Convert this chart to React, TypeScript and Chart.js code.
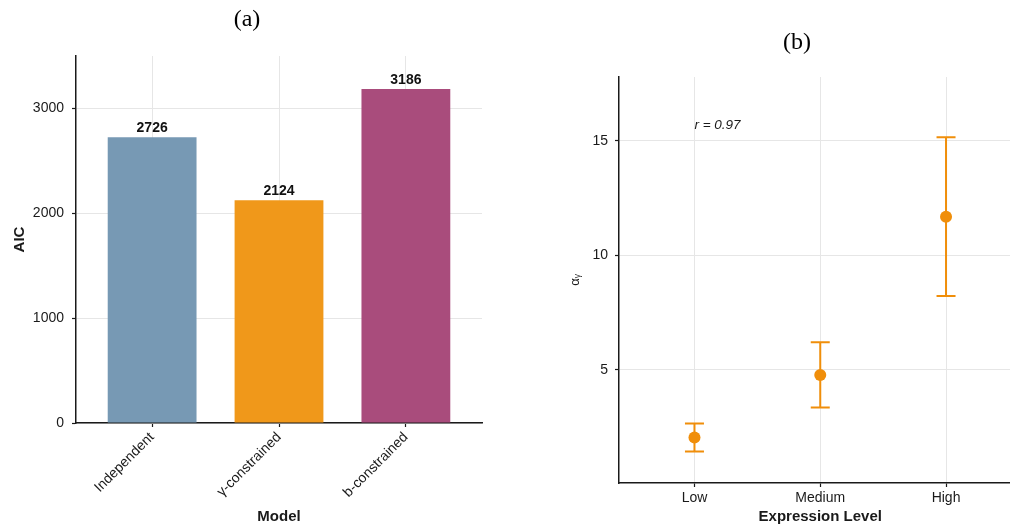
import React, { useEffect, useRef } from "react";
import { Chart, registerables } from "chart.js";

Chart.register(...registerables);

// Panel (a): model comparison by AIC
const models = ["Independent", "γ-constrained", "b-constrained"];
const aicValues = [2726, 2124, 3186];
const barColors = ["#7799b4", "#f0981a", "#a94c7c"];
const aicTicks = [0, 1000, 2000, 3000];

// Panel (b): α_γ by expression level, with interval bounds
const levels = ["Low", "Medium", "High"];
const alphaMean = [2.05, 4.78, 11.69];
const alphaLower = [1.44, 3.36, 8.23];
const alphaUpper = [2.66, 6.21, 15.16];
const alphaTicks = [5, 10, 15];
const correlationText = "r = 0.97";
const correlationAnchor = { x: 0, y: 15.53 };

const SANS = "'Liberation Sans', Arial, sans-serif";
const TEXT = "#1a1a1a";
const GRID = "#e6e6e6";
const AXIS = "#1a1a1a";
const POINT_COLOR = "#f08e0a";
const TICK_SIZE = 14;
const TITLE_SIZE = 15;

const barValueLabels = {
  id: "barValueLabels",
  afterDatasetsDraw(chart: any) {
    const ctx = chart.ctx;
    const meta = chart.getDatasetMeta(0);
    ctx.save();
    ctx.font = `bold 14px ${SANS}`;
    ctx.fillStyle = "#111";
    ctx.textAlign = "center";
    ctx.textBaseline = "alphabetic";
    meta.data.forEach((bar: any, i: number) => {
      ctx.fillText(String(aicValues[i]), bar.x, bar.y - 5);
    });
    ctx.restore();
  },
};

const errorBars = {
  id: "errorBars",
  beforeDatasetsDraw(chart: any) {
    const ctx = chart.ctx;
    const xs = chart.scales.x;
    const ys = chart.scales.y;
    const cap = 9.5;
    ctx.save();
    ctx.strokeStyle = POINT_COLOR;
    ctx.lineWidth = 2;
    ctx.lineCap = "butt";
    levels.forEach((_, i) => {
      const x = xs.getPixelForValue(i);
      const yLo = ys.getPixelForValue(alphaLower[i]);
      const yHi = ys.getPixelForValue(alphaUpper[i]);
      ctx.beginPath();
      ctx.moveTo(x, yLo);
      ctx.lineTo(x, yHi);
      ctx.moveTo(x - cap, yLo);
      ctx.lineTo(x + cap, yLo);
      ctx.moveTo(x - cap, yHi);
      ctx.lineTo(x + cap, yHi);
      ctx.stroke();
    });
    ctx.restore();
  },
  afterDatasetsDraw(chart: any) {
    const ctx = chart.ctx;
    const xs = chart.scales.x;
    const ys = chart.scales.y;
    ctx.save();
    ctx.font = `italic 13.5px ${SANS}`;
    ctx.fillStyle = TEXT;
    ctx.textAlign = "left";
    ctx.textBaseline = "alphabetic";
    ctx.fillText(
      correlationText,
      xs.getPixelForValue(correlationAnchor.x),
      ys.getPixelForValue(correlationAnchor.y)
    );
    ctx.restore();
  },
};

const gridStyle = { color: GRID, lineWidth: 1, tickColor: AXIS, tickLength: 4, tickWidth: 1.2, offset: false };
const borderStyle = { color: AXIS, width: 1.5 };

function AicChart() {
  const ref = useRef<HTMLCanvasElement | null>(null);
  useEffect(() => {
    if (!ref.current) return;
    const chart = new Chart(ref.current, {
      type: "bar",
      data: {
        datasets: [
          {
            data: aicValues.map((v, i) => ({ x: i, y: v })),
            backgroundColor: barColors,
            borderWidth: 0,
            categoryPercentage: 1,
            barPercentage: 0.7,
          },
        ],
      },
      options: {
        responsive: false,
        animation: false,
        events: [],
        layout: { padding: { top: 56, right: 18, left: 0, bottom: 0 } },
        plugins: { legend: { display: false }, tooltip: { enabled: false } },
        scales: {
          x: {
            type: "linear",
            offset: false,
            min: -0.6,
            max: 2.6,
            afterBuildTicks: (s: any) => {
              s.ticks = models.map((_, i) => ({ value: i }));
            },
            afterFit: (s: any) => {
              s.height = 104;
            },
            ticks: {
              callback: (v: any) => models[v] ?? "",
              minRotation: 45,
              maxRotation: 45,
              padding: 2,
              color: TEXT,
              font: { family: SANS, size: TICK_SIZE },
            },
            grid: gridStyle,
            border: borderStyle,
            title: {
              display: true,
              text: "Model",
              color: TEXT,
              font: { family: SANS, size: TITLE_SIZE, weight: "bold" },
              padding: { top: 0, bottom: 1.5 },
            },
          },
          y: {
            min: 0,
            max: 3500,
            afterBuildTicks: (s: any) => {
              s.ticks = aicTicks.map((v) => ({ value: v }));
            },
            afterFit: (s: any) => {
              s.width = 76;
            },
            ticks: {
              callback: (v: any) => String(v),
              padding: 8,
              color: TEXT,
              font: { family: SANS, size: TICK_SIZE },
            },
            grid: gridStyle,
            border: borderStyle,
            title: {
              display: true,
              text: "AIC",
              color: TEXT,
              font: { family: SANS, size: TITLE_SIZE, weight: "bold" },
              padding: { top: 10.5, bottom: 0 },
            },
          },
        },
      },
      plugins: [barValueLabels],
    } as any);
    return () => chart.destroy();
  }, []);
  return (
    <canvas
      ref={ref}
      width={500}
      height={527}
      style={{ position: "absolute", left: 0, top: 0 }}
    />
  );
}

function AlphaChart() {
  const ref = useRef<HTMLCanvasElement | null>(null);
  useEffect(() => {
    if (!ref.current) return;
    const chart = new Chart(ref.current, {
      type: "scatter",
      data: {
        datasets: [
          {
            data: alphaMean.map((v, i) => ({ x: i, y: v })),
            backgroundColor: POINT_COLOR,
            borderWidth: 0,
            pointRadius: 6,
          },
        ],
      },
      options: {
        responsive: false,
        animation: false,
        events: [],
        layout: { padding: { top: 77, right: 18.5, left: 0, bottom: 0 } },
        plugins: { legend: { display: false }, tooltip: { enabled: false } },
        scales: {
          x: {
            type: "linear",
            offset: false,
            min: -0.6,
            max: 2.6,
            afterBuildTicks: (s: any) => {
              s.ticks = levels.map((_, i) => ({ value: i }));
            },
            afterFit: (s: any) => {
              s.height = 44;
            },
            ticks: {
              callback: (v: any) => levels[v] ?? "",
              maxRotation: 0,
              minRotation: 0,
              padding: 2.5,
              color: TEXT,
              font: { family: SANS, size: TICK_SIZE },
            },
            grid: gridStyle,
            border: borderStyle,
            title: {
              display: true,
              text: "Expression Level",
              color: TEXT,
              font: { family: SANS, size: TITLE_SIZE, weight: "bold" },
              padding: { top: 0, bottom: 1 },
            },
          },
          y: {
            min: 0.06,
            max: 17.79,
            afterBuildTicks: (s: any) => {
              s.ticks = alphaTicks.map((v) => ({ value: v }));
            },
            afterFit: (s: any) => {
              s.width = 79;
            },
            ticks: {
              callback: (v: any) => String(v),
              padding: 7,
              color: TEXT,
              font: { family: SANS, size: TICK_SIZE },
            },
            grid: gridStyle,
            border: borderStyle,
            title: {
              display: true,
              text: "αᵧ",
              color: TEXT,
              font: { family: "'Liberation Sans', 'DejaVu Sans', sans-serif", size: 13 },
              padding: { top: 27.5, bottom: 0 },
            },
          },
        },
      },
      plugins: [errorBars],
    } as any);
    return () => chart.destroy();
  }, []);
  return (
    <canvas
      ref={ref}
      width={500}
      height={527}
      style={{ position: "absolute", left: 540, top: 0 }}
    />
  );
}

const panelLabelStyle: React.CSSProperties = {
  position: "absolute",
  transform: "translateX(-50%)",
  fontFamily: "'Liberation Serif', 'Times New Roman', serif",
  fontSize: 24,
  lineHeight: 1,
  color: "#000",
  whiteSpace: "nowrap",
};

export default function App() {
  return (
    <div
      style={{
        position: "fixed",
        left: 0,
        top: 0,
        width: 1010,
        height: 527,
        overflow: "hidden",
        background: "#fff",
      }}
    >
      <AicChart />
      <AlphaChart />
      <div style={{ ...panelLabelStyle, left: 247, top: 5.5 }}>(a)</div>
      <div style={{ ...panelLabelStyle, left: 797, top: 28.5 }}>(b)</div>
    </div>
  );
}
